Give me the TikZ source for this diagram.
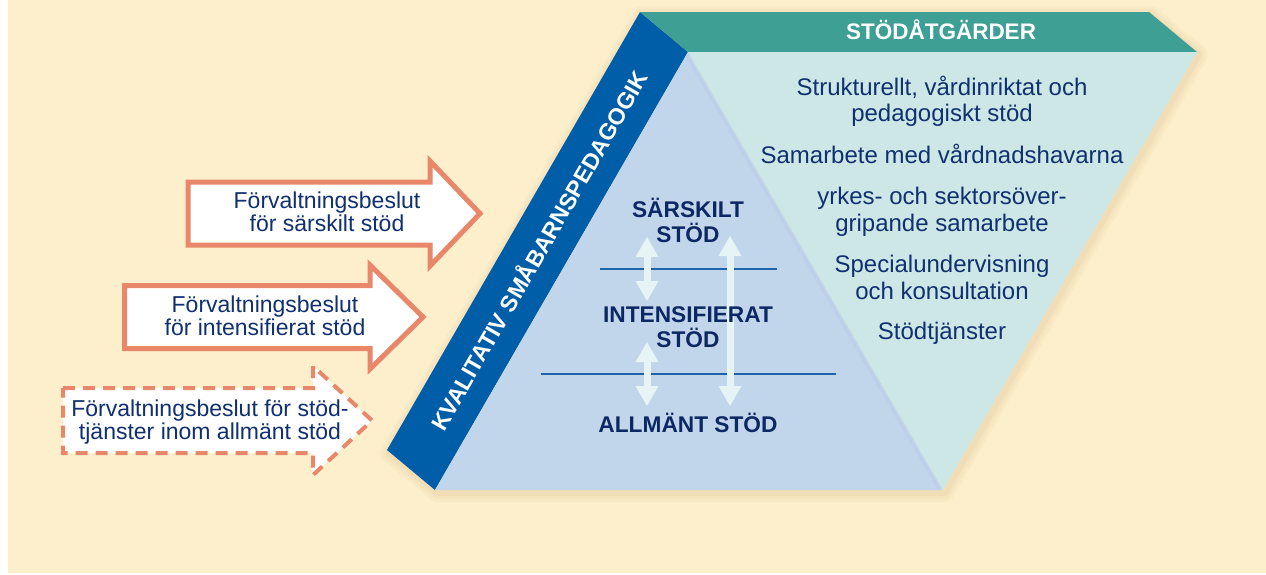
\documentclass[tikz,border=0pt]{standalone}
\usepackage{fontspec}
\setmainfont{Liberation Sans}
\usetikzlibrary{arrows.meta}
\definecolor{cream}{RGB}{253,239,204}
\definecolor{shadowtan}{RGB}{210,178,120}
\definecolor{bandblue}{RGB}{0,94,168}
\definecolor{headteal}{RGB}{62,160,148}
\definecolor{lightteal}{RGB}{204,231,230}
\definecolor{lightblue}{RGB}{194,214,235}
\definecolor{edgeblue}{RGB}{190,207,234}
\definecolor{navy}{RGB}{16,48,112}
\definecolor{navydark}{RGB}{12,40,100}
\definecolor{lineblue}{RGB}{30,100,170}
\definecolor{arrowlight}{RGB}{230,244,246}
\definecolor{orangeline}{RGB}{232,135,106}
\begin{document}
\begin{tikzpicture}[x=1pt,y=-1pt,
  lefttxt/.style={font=\fontsize{23}{23}\selectfont, text=navy, anchor=base, inner sep=0pt},
  righttxt/.style={font=\fontsize{24}{24}\selectfont, text=navy, anchor=base, inner sep=0pt},
  tritxt/.style={font=\bfseries\fontsize{22.7}{22.7}\selectfont, text=navydark, anchor=base, inner sep=0pt},
  decarrow/.style={draw=orangeline, line width=5pt, fill=white, line join=miter},
  decarrowdash/.style={draw=orangeline, line width=4pt, fill=white, line join=miter, dash pattern=on 12pt off 8pt},
  dblarrow/.style={draw=arrowlight, line width=7pt,
    {Triangle[width=23pt,length=20pt,line width=0pt]}-{Triangle[width=23pt,length=20pt,line width=0pt]}},
  levelline/.style={draw=lineblue, line width=2pt},
  glow/.style={draw=shadowtan, line join=round}]
\useasboundingbox (0,0) rectangle (1266,574);
\fill[white] (0,0) rectangle (1266,574);
\fill[cream] (8,0) rectangle (1266,573);

% soft shadow around the main figure
\begin{scope}[shift={(2,3)}]
\foreach \w/\o in {18/0.07, 12/0.09, 6/0.11}{
  \draw[glow, line width=\w pt, opacity=\o] (640,12) -- (1149,12) -- (1197,52) -- (943,490) -- (435,490) -- (387,450) -- cycle;
}
\end{scope}

% main shapes
\fill[bandblue] (640,12) -- (688,52) -- (435,490) -- (387,450) -- cycle;
\fill[headteal] (640,12) -- (1149,12) -- (1197,52) -- (688,52) -- cycle;
\fill[lightteal] (688,52) -- (1197,52) -- (943,490) -- cycle;
\fill[lightblue] (688,52) -- (943,490) -- (435,490) -- cycle;
\draw[edgeblue, line width=3pt] (687,56) -- (939,489);

% header and band labels
\node[font=\bfseries\fontsize{22.5}{22.5}\selectfont, text=white, anchor=base, inner sep=0pt] (hdr) at (941,39) {STÖDÅTGÄRDER};
\node[font=\bfseries\fontsize{23}{23}\selectfont, text=white, rotate=60, inner sep=0pt] (band) at (538,250) {KVALITATIV SMÅBARNSPEDAGOGIK};

% level lines
\coordinate (l1a) at (600,269); \coordinate (l1b) at (777,269);
\coordinate (l2a) at (541,374); \coordinate (l2b) at (836,374);
\draw[levelline] (l1a) -- (l1b);
\draw[levelline] (l2a) -- (l2b);

% double arrows
\coordinate (d1t) at (647,237); \coordinate (d1b) at (647,301);
\coordinate (d2t) at (647,342); \coordinate (d2b) at (647,406);
\coordinate (d3t) at (730,236); \coordinate (d3b) at (730,406);
\draw[dblarrow] (d1t) -- (d1b);
\draw[dblarrow] (d2t) -- (d2b);
\draw[dblarrow] (d3t) -- (d3b);

% triangle texts
\node[tritxt] (t1) at (688,217) {SÄRSKILT};
\node[tritxt] (t2) at (688,242) {STÖD};
\node[tritxt] (t3) at (688,322) {INTENSIFIERAT};
\node[tritxt] (t4) at (688,347) {STÖD};
\node[tritxt] (t5) at (688,432) {ALLMÄNT STÖD};

% right texts
\node[righttxt] (r1) at (942,95) {Strukturellt, vårdinriktat och};
\node[righttxt] (r2) at (942,121) {pedagogiskt stöd};
\node[righttxt] (r3) at (942,163) {Samarbete med vårdnadshavarna};
\node[righttxt] (r4) at (942,204) {yrkes- och sektorsöver-};
\node[righttxt] (r5) at (942,231) {gripande samarbete};
\node[righttxt] (r6) at (942,272) {Specialundervisning};
\node[righttxt] (r7) at (942,299) {och konsultation};
\node[righttxt] (r8) at (942,339) {Stödtjänster};

% decision arrows
\draw[decarrow] (188,182) -- (430,182) -- (430,161) -- (480,213.5) -- (430,266) -- (430,245) -- (188,245) -- cycle;
\draw[decarrow] (124.5,285.5) -- (370,285.5) -- (370,265) -- (423,317) -- (370,369) -- (370,348.5) -- (124.5,348.5) -- cycle;
\draw[decarrowdash] (63,388) -- (313,388) -- (313,366) -- (372,420.5) -- (313,475) -- (313,453) -- (63,453) -- cycle;

\node[lefttxt] (a1a) at (327,208) {Förvaltningsbeslut};
\node[lefttxt] (a1b) at (327,231) {för särskilt stöd};
\node[lefttxt] (a2a) at (265,312.5) {Förvaltningsbeslut};
\node[lefttxt] (a2b) at (265,335) {för intensifierat stöd};
\node[lefttxt] (a3a) at (210,416) {Förvaltningsbeslut för stöd-};
\node[lefttxt] (a3b) at (210,439) {tjänster inom allmänt stöd};
\end{tikzpicture}
\end{document}
